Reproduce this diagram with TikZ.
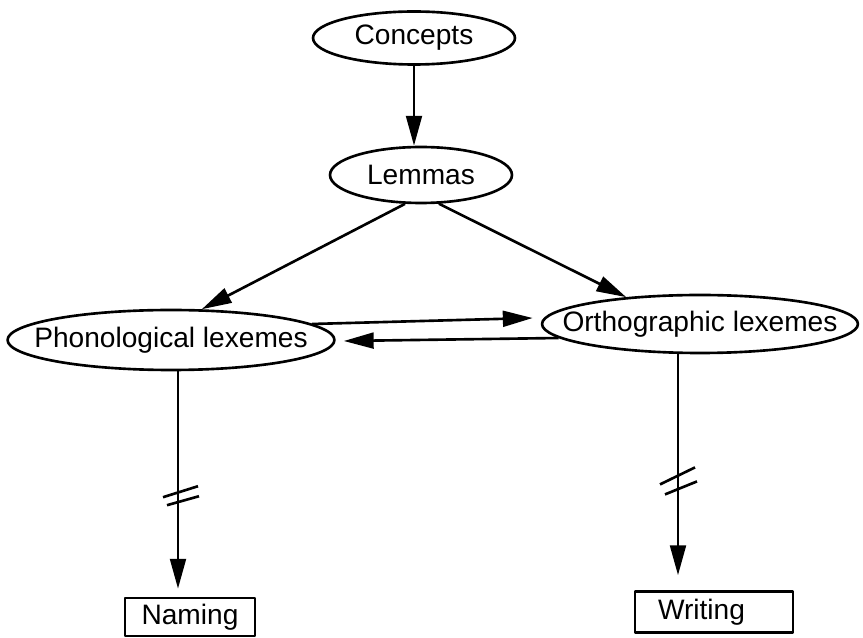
\documentclass[tikz,border=0pt]{standalone}
\usepackage{fontspec}
\setmainfont{Liberation Sans}
\usetikzlibrary{shapes.geometric,arrows.meta,calc}
\begin{document}
\begin{tikzpicture}[x=.02cm,y=-.02cm,>={Triangle[length=17pt,width=9pt]},
  font=\fontsize{16}{19}\selectfont, line join=round, line width=1.5pt,
  oval/.style={draw,ellipse,inner xsep=-.7cm,inner ysep=0pt},
  outbox/.style={draw,rectangle,inner sep=0pt}]
\useasboundingbox (0,0) rectangle (863,638);
\node[oval,minimum width=4.04cm,minimum height=1.06cm] (concepts) at (414,38) {Concepts};
\node[oval,minimum width=3.64cm,minimum height=1.12cm] (lemmas) at (421,175) {Lemmas};
\node[oval,minimum width=6.54cm,minimum height=1.2cm] (phon) at (171,340) {Phonological lexemes};
\node[oval,minimum width=6.32cm,minimum height=1.16cm] (orth) at (700,324) {Orthographic lexemes};
\node[outbox,minimum width=2.6cm,minimum height=.76cm] (naming) at (190,617) {Naming};
\node[outbox,minimum width=3.16cm,minimum height=.82cm,text width=2.24cm,align=left] (writing) at (714,612) {Writing};
% arrows between levels
\draw[->] (concepts.south) -- (concepts.south |- lemmas.north);
\draw[->] (lemmas.241) -- (phon.45);
\draw[->] (lemmas.302) -- (orth.160);
\draw[->] ($(phon.east)+(-24,-16)$) -- ($(orth.west)+(-8,-6)$);
\draw[->] ($(orth.west)+(18,14)$) -- ($(phon.east)+(8,1)$);
% outputs, with the cut marks
\coordinate (pstart) at ($(phon.south)+(7,0)$);
\coordinate (ostart) at ($(orth.south)+(-22,0)$);
\draw[->] (pstart) -- coordinate[pos=.57] (pcut) ($(pstart |- naming.north)+(0,-8)$);
\draw[->] (ostart) -- coordinate[pos=.58] (ocut) ($(ostart |- writing.north)+(0,-15)$);
\draw ([shift={(-15,2)}]pcut) -- ++(35,-11);
\draw ([shift={(-11,10)}]pcut) -- ++(32,-9);
\draw ([shift={(-18,2)}]ocut) -- ++(35,-17);
\draw ([shift={(-13,12)}]ocut) -- ++(32,-13);
\end{tikzpicture}
\end{document}
